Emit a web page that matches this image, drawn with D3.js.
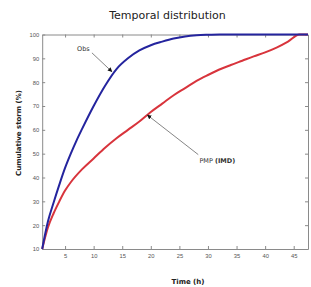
<!DOCTYPE html>
<html>
<head>
<meta charset="utf-8">
<script src="https://cdn.jsdelivr.net/npm/d3@7"></script>
<style>
    body { margin: 0; background: #fff; }
    svg { display: block; font-family: "DejaVu Sans", sans-serif; }
    .axis path, .axis line { stroke: #8a8a8a; }
    .axis text { fill: #555; font-size: 5.8px; }
</style>
</head>
<body>
<svg id="chart" width="311" height="287"></svg>
<script>
// time (h) and cumulative storm (%)
let obsTime = [1, 2, 3, 4, 5, 6, 7, 8, 10, 12, 14, 16, 18, 20, 22, 24, 26, 28, 30, 32, 47.5];
let obsValues = [10, 21.5, 29.5, 37, 44, 50, 55.5, 60.5, 70, 78.5, 85.5, 90, 93.3, 95.5, 97, 98.3, 99.2, 99.7, 99.9, 100, 100];

let pmpTime = [1, 2, 3, 4, 5, 6, 8, 10, 12, 14, 16, 18, 20, 22, 24, 26, 28, 30, 32, 34, 36, 38, 40, 42, 44, 46, 47.5];
let pmpValues = [10, 19, 25, 30, 34.5, 38, 43.5, 48, 52.5, 56.5, 60, 63.5, 67.5, 71, 74.5, 77.5, 80.5, 83, 85.3, 87.2, 89, 90.8, 92.5, 94.5, 97, 100, 100];

let xTicks = [5, 10, 15, 20, 25, 30, 35, 40, 45];
let yTicks = [10, 20, 30, 40, 50, 60, 70, 80, 90, 100];

let svg = d3.select("#chart");

let plotLeft = 42.2, plotRight = 308, plotTop = 34.5, plotBottom = 249;

let xScale = d3.scaleLinear().domain([1, 47.5]).range([plotLeft, plotRight]);
let yScale = d3.scaleLinear().domain([10, 100]).range([plotBottom, plotTop]);

// axes, ticks pointing inward like matlab
svg.append("g").attr("class", "axis")
    .attr("transform", "translate(0," + plotBottom + ")")
    .call(d3.axisBottom(xScale).tickValues(xTicks).tickSizeInner(-3).tickSizeOuter(0).tickPadding(5));
svg.append("g").attr("class", "axis")
    .attr("transform", "translate(0," + plotTop + ")")
    .call(d3.axisTop(xScale).tickValues(xTicks).tickSizeInner(-3).tickSizeOuter(0).tickFormat(""));
svg.append("g").attr("class", "axis")
    .attr("transform", "translate(" + plotLeft + ",0)")
    .call(d3.axisLeft(yScale).tickValues(yTicks).tickSizeInner(-3).tickSizeOuter(0).tickPadding(3));
svg.append("g").attr("class", "axis")
    .attr("transform", "translate(" + plotRight + ",0)")
    .call(d3.axisRight(yScale).tickValues(yTicks).tickSizeInner(-3).tickSizeOuter(0).tickFormat(""));

let line = d3.line()
    .x(d => xScale(d[0]))
    .y(d => yScale(d[1]))
    .curve(d3.curveMonotoneX);

svg.append("path")
    .datum(pmpTime.map((t, i) => [t, pmpValues[i]]))
    .attr("d", line)
    .attr("fill", "none")
    .attr("stroke", "#d8343c")
    .attr("stroke-width", 2);

svg.append("path")
    .datum(obsTime.map((t, i) => [t, obsValues[i]]))
    .attr("d", line)
    .attr("fill", "none")
    .attr("stroke", "#24249e")
    .attr("stroke-width", 2);

// annotation arrows
svg.append("defs").append("marker")
    .attr("id", "head")
    .attr("viewBox", "0 0 10 10")
    .attr("refX", 9).attr("refY", 5)
    .attr("markerWidth", 5).attr("markerHeight", 5)
    .attr("orient", "auto")
    .append("path").attr("d", "M0,0L10,5L0,10z").attr("fill", "#111");

let notes = [
    {text: "Obs", bold: "", from: [9.7, 92.3], to: [13.2, 84.4], label: [8.2, 93.2], anchor: "middle"},
    {text: "PMP ", bold: "(IMD)", from: [28.3, 49.6], to: [19.4, 66.2], label: [28.5, 46.2], anchor: "start"}
];

notes.forEach(function (n) {
    svg.append("line")
        .attr("x1", xScale(n.from[0])).attr("y1", yScale(n.from[1]))
        .attr("x2", xScale(n.to[0])).attr("y2", yScale(n.to[1]))
        .attr("stroke", "#777")
        .attr("stroke-width", 0.9)
        .attr("marker-end", "url(#head)");
    let t = svg.append("text")
        .attr("x", xScale(n.label[0]))
        .attr("y", yScale(n.label[1]))
        .attr("text-anchor", n.anchor)
        .attr("font-size", 6.5)
        .attr("fill", "#333");
    t.append("tspan").text(n.text);
    if (n.bold) t.append("tspan").attr("font-weight", "bold").text(n.bold);
});

// titles
svg.append("text")
    .attr("x", 167.5).attr("y", 19)
    .attr("text-anchor", "middle")
    .attr("font-size", 11)
    .attr("fill", "#222")
    .text("Temporal distribution");

svg.append("text")
    .attr("x", 188).attr("y", 284)
    .attr("text-anchor", "middle")
    .attr("font-size", 7)
    .attr("font-weight", "bold")
    .attr("fill", "#222")
    .text("Time (h)");

svg.append("text")
    .attr("transform", "translate(21,133) rotate(-90)")
    .attr("text-anchor", "middle")
    .attr("font-size", 7)
    .attr("font-weight", "bold")
    .attr("fill", "#222")
    .text("Cumulative storm (%)");
</script>
</body>
</html>
